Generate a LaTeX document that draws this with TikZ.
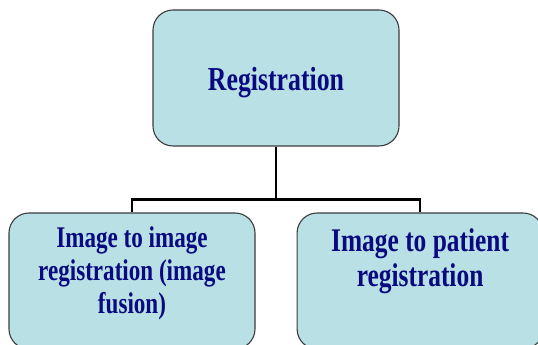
\documentclass[tikz,border=0pt]{standalone}
\usepackage{fontspec}
\newfontfamily\boxfont[FakeStretch=0.77]{Liberation Serif}
\usepackage{tikz}
\usetikzlibrary{positioning}
\definecolor{boxfill}{RGB}{185,224,228}
\definecolor{boxtext}{RGB}{10,10,128}
\definecolor{boxline}{RGB}{60,60,60}

\begin{document}
\begin{tikzpicture}[x=1pt, y=1pt,
    regbox/.style={draw=boxline, line width=1.1pt, fill=boxfill, rounded corners=20pt,
        minimum width=246pt, minimum height=136pt, inner sep=0pt},
    regtext/.style={text=boxtext, align=center, inner sep=0pt, anchor=base},
    link/.style={line width=2.6pt, black}]
    % Page frame
    \useasboundingbox (0,0) rectangle (538,345);
    \clip (0,0) rectangle (538,345);

    % Top box
    \node[regbox] (reg) at (276,267) {};
    \node[regtext, font=\boxfont\bfseries\fontsize{33.5}{38}\selectfont]
        (regtxt) at ([yshift=-13pt]reg.center) {Registration};

    % Lower boxes (cut off at the bottom edge)
    \node[regbox] (imgimg) at (132,64) {};
    \node[regbox, right=41pt of imgimg] (imgpat) {};

    % base anchor = baseline of the last line
    \node[regtext, font=\boxfont\bfseries\fontsize{30}{33}\selectfont]
        (imgimgtxt) at ([yshift=-101pt]imgimg.north) {Image to image\\registration (image\\fusion)};
    \node[regtext, font=\boxfont\bfseries\fontsize{33}{35}\selectfont]
        (imgpattxt) at ([yshift=-74pt]imgpat.north) {Image to patient\\registration};

    % Tree connector
    \path (reg.south) ++(0,-53) coordinate (fork);
    \draw[link] (reg.south) -- (fork);
    \draw[link] (imgimg.north) |- (fork) -| (imgpat.north);
\end{tikzpicture}
\end{document}
